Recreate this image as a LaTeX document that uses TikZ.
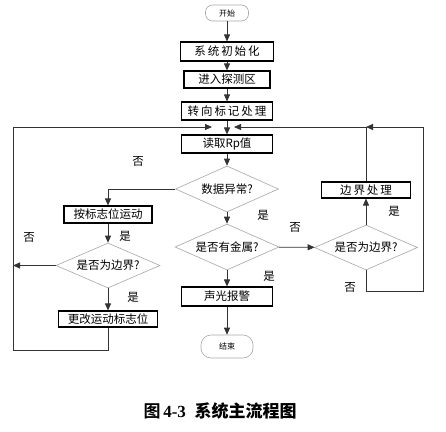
\documentclass[tikz,border=0pt]{standalone}
\usepackage{fontspec}
\setmainfont{Noto Sans CJK SC}
\newfontfamily\capfont{Noto Sans CJK SC Bold}
\newfontfamily\capnum{Liberation Serif}
\usetikzlibrary{shapes.geometric,arrows.meta}
\begin{document}
\begin{tikzpicture}[x=1pt,y=-1pt,
  every node/.style={font=\fontsize{11.5}{12}\selectfont},
  proc/.style={rectangle,draw=black,line width=1.1pt,inner sep=0pt,align=center},
  dec/.style={diamond,draw=gray!70,line width=0.6pt,inner sep=0pt,aspect=2.25},
  term/.style={rectangle,rounded corners=7pt,draw=gray!70,line width=0.6pt,inner sep=0pt,font=\fontsize{8}{9}\selectfont},
  lbl/.style={font=\fontsize{11.5}{12}\selectfont,inner sep=0pt},
  conn/.style={draw=black!80,line width=0.8pt},
  arr/.style={conn,-{Triangle[length=7pt,width=6pt]}}
]
\useasboundingbox (0,0) rectangle (446,431);
% nodes
\node[term,minimum width=43pt,minimum height=16pt] (start) at (227,13) {开始};
\node[proc,minimum width=93pt,minimum height=19pt] (init) at (227,51.5) {系\,统\,初\,始\,化};
\node[proc,minimum width=86pt,minimum height=17pt] (enter) at (227,79.5) {进入探测区};
\node[proc,minimum width=91pt,minimum height=18pt] (turn) at (227,111) {转\,向\,标\,记\,处\,理};
\node[proc,minimum width=91pt,minimum height=18pt] (read) at (227,144) {读取Rp值};
\node[dec,minimum width=103pt,minimum height=46pt] (d1) at (227,189) {数据异常?};
\node[proc,minimum width=88pt,minimum height=17pt] (move) at (108,214.5) {按标志位运动};
\node[dec,minimum width=104pt,minimum height=46pt] (d2) at (227,247) {是否有金属?};
\node[dec,minimum width=104pt,minimum height=45pt] (dl) at (108,265.5) {是否为边界?};
\node[dec,minimum width=103pt,minimum height=45pt] (dr) at (366,247.5) {是否为边界?};
\node[proc,minimum width=89pt,minimum height=16pt] (bound) at (366,190) {边\,界\,处\,理};
\node[proc,minimum width=91pt,minimum height=19pt] (alarm) at (227,296.5) {声光报警};
\node[proc,minimum width=99pt,minimum height=16pt] (change) at (108,319) {更改运动标志位};
\node[term,minimum width=52pt,minimum height=23pt,rounded corners=10pt] (end) at (227,346.5) {结束};
% junction coordinates
\coordinate (m) at (227,127);
\coordinate (rj) at (366,127);
\coordinate (lt) at (13,127);
\coordinate (lb) at (13,350);
\coordinate (rt) at (423,127);
\coordinate (rb) at (423,291);
% connectors
\draw[arr] (start) -- (init);
\draw[arr] (init) -- (enter);
\draw[arr] (enter) -- (turn);
\draw[arr] (turn) -- (read);
\draw[arr] (read) -- (d1);
\draw[arr] (d1.west) -| (move.north);
\draw[arr] (d1) -- (d2);
\draw[arr] (d2) -- (dr);
\draw[arr] (d2) -- (alarm);
\draw[arr] (alarm) -- (end);
\draw[arr] (move) -- (dl);
\draw[arr] (dl) -- (change);
\draw[arr] (dl.west) -- (dl.west -| lt);
\draw[arr,shorten >=15pt] (change.south) |- (lb) -- (lt) -- (m);
\draw[arr] (dr) -- (bound);
\draw[arr,shorten >=7pt] (bound.north) -- (rj) -- (m);
\draw[arr] (dr.south) |- (rb) -- (rt) -- (rj);
% labels
\node[lbl] (l1) at (138,161) {否};
\node[lbl] (l2) at (263,215) {是};
\node[lbl] (l3) at (29,237) {否};
\node[lbl] (l4) at (125,236) {是};
\node[lbl] (l5) at (133,297) {是};
\node[lbl] (l6) at (295,227) {否};
\node[lbl] (l7) at (394,211) {是};
\node[lbl] (l8) at (350,287) {否};
\node[lbl] (l9) at (269,276) {是};
% caption
\node[font=\fontsize{17}{19}\selectfont,inner sep=0pt] (cap) at (220,411) {\capfont 图\,\capnum\bfseries 4-3\ \ \capfont 系统主流程图};
\end{tikzpicture}
\end{document}
